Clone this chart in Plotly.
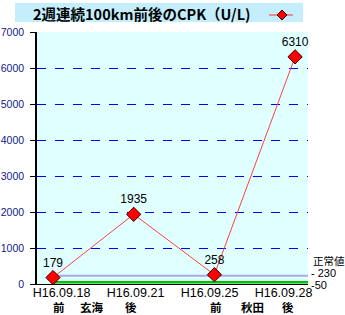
import plotly.graph_objects as go

dates = ["H16.09.18", "H16.09.21", "H16.09.25", "H16.09.28"]
cpk = [179, 1935, 258, 6310]
normal_high = 230
normal_low = 50
y_ticks = [0, 1000, 2000, 3000, 4000, 5000, 6000, 7000]
title_text = "2週連続100km前後のCPK（U/L)"

W, H = 345, 315
L, R, T, B = 37, 308, 32, 284
STEP = 80.7  # pixels per category
X0 = 53      # pixel of first category


def px(x):
    return (x - L) / (R - L)


def py(y):
    return (B - y) / (B - T)


def cat(xpix):
    return (xpix - X0) / STEP


xs = list(range(len(dates)))
# tick labels are laid out evenly, slightly offset from the points (as in the source)
label_pos = [cat(61.5 + 74 * i) for i in range(len(dates))]

fig = go.Figure()

fig.add_trace(go.Scatter(
    x=[0, cat(R)], y=[normal_high, normal_high], mode="lines",
    line=dict(color="#a8a8f0", width=2), hoverinfo="skip", showlegend=False))
fig.add_trace(go.Scatter(
    x=[0, cat(R)], y=[normal_low, normal_low], mode="lines",
    line=dict(color="#00c000", width=2.5), hoverinfo="skip", showlegend=False))

fig.add_trace(go.Scatter(
    x=xs, y=cpk, mode="lines+markers+text",
    text=[str(v) for v in cpk], textposition="top center",
    textfont=dict(family="Liberation Sans, Arial", size=12, color="black"),
    line=dict(color="#ff4040", width=1),
    marker=dict(symbol="diamond", size=11, color="#ff0000",
                line=dict(color="#400000", width=1)),
    showlegend=False, cliponaxis=False))

shapes = []
# title box
shapes.append(dict(type="rect", xref="paper", yref="paper",
                   x0=px(15), x1=px(303), y0=py(22), y1=py(3),
                   fillcolor="#c4eefc", line=dict(width=0), layer="below"))
# legend line and diamond
shapes.append(dict(type="line", xref="paper", yref="paper",
                   x0=px(269), x1=px(293), y0=py(15), y1=py(15),
                   line=dict(color="#ff3030", width=1)))
cx, cy, r = 282, 15, 5
path = "M {} {} L {} {} L {} {} L {} {} Z".format(
    px(cx), py(cy - r), px(cx + r), py(cy), px(cx), py(cy + r), px(cx - r), py(cy))
shapes.append(dict(type="path", xref="paper", yref="paper", path=path,
                   fillcolor="#ff0000", line=dict(color="#400000", width=1)))

annotations = []
annotations.append(dict(text="<b>" + title_text + "</b>", xref="paper", yref="paper",
                        x=px(142), y=py(13), xanchor="center", yanchor="middle",
                        showarrow=False,
                        font=dict(family="Noto Sans CJK JP", size=14.5, color="black")))
# normal range labels
annotations.append(dict(text="正常値", xref="paper", yref="paper",
                        x=px(311), y=py(260), xanchor="left", yanchor="middle",
                        showarrow=False,
                        font=dict(family="Noto Sans CJK JP", size=10.5, color="black")))
annotations.append(dict(text="- " + str(normal_high), xref="paper", yref="paper",
                        x=px(309), y=py(273), xanchor="left", yanchor="middle",
                        showarrow=False,
                        font=dict(family="Liberation Sans, Arial", size=11, color="black")))
annotations.append(dict(text="-" + str(normal_low), xref="paper", yref="paper",
                        x=px(309), y=py(285), xanchor="left", yanchor="middle",
                        showarrow=False,
                        font=dict(family="Liberation Sans, Arial", size=11, color="black")))
# bottom group labels
for txt, xx in [("前", 59), ("玄海", 92), ("後", 131), ("前", 216), ("秋田", 252), ("後", 288)]:
    annotations.append(dict(text="<b>" + txt + "</b>", xref="paper", yref="paper",
                            x=px(xx), y=py(306.5), xanchor="center", yanchor="middle",
                            showarrow=False,
                            font=dict(family="Noto Sans CJK JP", size=11.5, color="black")))

fig.update_layout(
    width=W, height=H,
    margin=dict(l=L, r=W - R, t=T, b=H - B, autoexpand=False),
    paper_bgcolor="white", plot_bgcolor="#e0ffff",
    shapes=shapes, annotations=annotations,
    showlegend=False,
    xaxis=dict(range=[cat(L), cat(R)], tickvals=label_pos, ticktext=dates,
               showgrid=False, zeroline=False, showline=True, automargin=False,
               linecolor="black", linewidth=1, ticks="", ticklen=0,
               ticklabelstandoff=-3,
               tickfont=dict(family="Liberation Sans, Arial", size=12.5, color="black"),
               fixedrange=True),
    yaxis=dict(range=[0, 7000], tickvals=y_ticks, automargin=False,
               showgrid=True, gridcolor="#0000ff", griddash="dash", gridwidth=1,
               zeroline=False, showline=True, linecolor="black", linewidth=1.5,
               ticks="outside", ticklen=5, tickcolor="black",
               ticklabelstandoff=4,
               tickfont=dict(family="Liberation Sans, Arial", size=10.5, color="#10208a"),
               fixedrange=True),
)

fig.write_html("out.html")
